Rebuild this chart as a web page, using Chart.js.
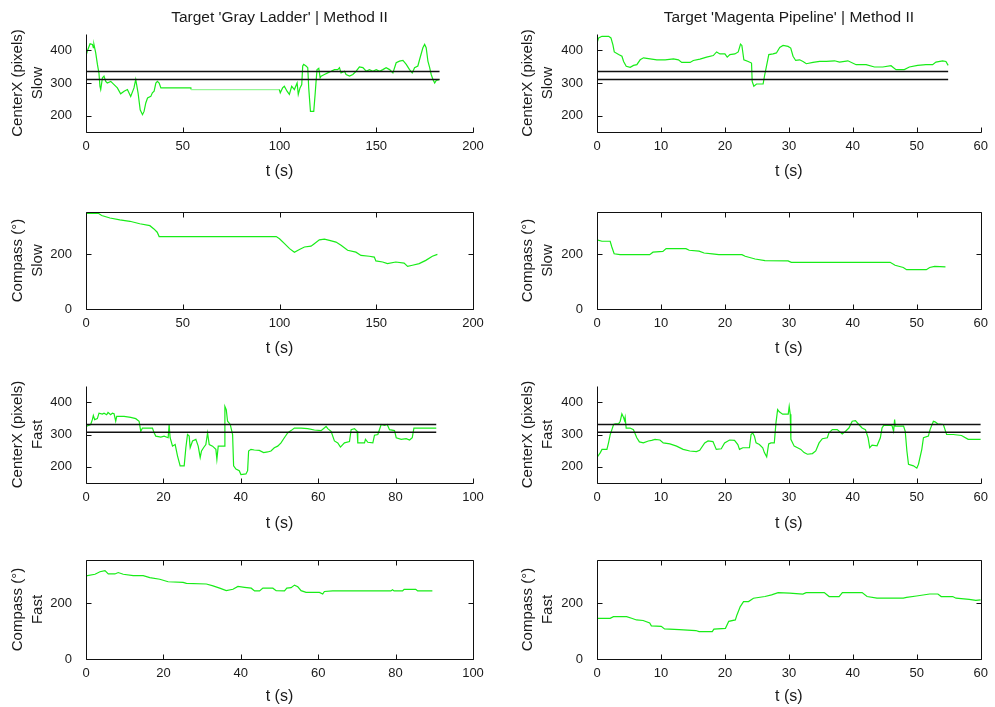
<!DOCTYPE html>
<html>
<head>
<meta charset="utf-8">
<title>CenterX and compass traces</title>
<script src="https://cdn.jsdelivr.net/npm/chart.js@4.4.0/dist/chart.umd.min.js"></script>
<style>
  html, body { margin: 0; padding: 0; background: #fff; width: 995px; height: 707px; overflow: hidden; }
  canvas { position: absolute; }
</style>
</head>
<body>
<script>
// ---- tick labels ----
const slowGrayXTicks = [0, 50, 100, 150, 200];
const fastGrayXTicks = [0, 20, 40, 60, 80, 100];
const magentaXTicks = [0, 10, 20, 30, 40, 50, 60];
const centerYTicks = [200, 300, 400];
const compassYTicks = [0, 200];

// ---- reference bands for CenterX (pixels) ----
const slowBand = [311, 335];
const fastBand = [307, 331];

// ---- titles ----
const titles = ["Target 'Gray Ladder' | Method II", "Target 'Magenta Pipeline' | Method II"];

// ---- series: [t (s), value] ----
const grayCenterSlow = [[0,383],[0.7,398],[2.1,420],[3.3,418],[3.8,408],[4.1,418],[5.0,393],[5.9,357],[6.7,330],[7.2,290],[7.6,280],[8.5,316],[9.3,321],[10.2,305],[11.0,300],[12.8,305],[14.5,295],[16.2,285],[17.9,267],[19.7,275],[21.4,280],[23.1,259],[24.8,285],[25.7,311],[26.9,270],[28.0,218],[29.2,203],[30.0,213],[30.9,239],[31.8,254],[33.5,259],[34.3,270],[35.2,275],[36.1,300],[36.9,305],[37.8,300],[38.7,285],[54.2,285],[54.3,280],[99.9,280],[100.4,270],[101.6,285],[102.5,290],[103.9,275],[105.1,265],[106.3,290],[107.7,280],[109.1,300],[109.7,265],[110.6,285],[111.5,295],[112.0,352],[112.5,357],[113.7,352],[114.6,347],[115.1,285],[116.0,213],[117.7,213],[118.4,265],[118.9,305],[119.4,341],[120.3,345],[121.0,316],[121.5,321],[123.2,326],[124.9,331],[126.7,336],[128.4,341],[130.1,341],[131.0,347],[131.8,331],[133.6,336],[134.4,326],[136.2,321],[137.9,326],[139.6,336],[141.3,349],[143.1,347],[144.8,336],[146.5,341],[148.2,336],[150.0,341],[151.7,336],[153.4,341],[155.1,347],[156.9,341],[158.6,331],[160.3,362],[162.0,367],[163.8,369],[165.5,357],[167.2,341],[168.6,331],[169.8,347],[171.5,352],[172.4,372],[174.1,408],[175.0,418],[175.8,408],[176.7,367],[177.6,347],[178.4,326],[179.3,311],[180.2,300],[181.0,308],[182.7,311]];

const magentaCenterSlow = [[0,422],[0.26,438],[0.78,443],[1.82,443],[2.18,438],[2.49,417],[2.70,395],[3.38,387],[3.90,382],[4.16,366],[4.57,351],[5.19,348],[5.71,354],[6.23,356],[6.75,371],[7.27,377],[8.31,374],[9.35,371],[10.65,371],[11.95,374],[12.73,371],[13.25,363],[14.55,363],[15.06,369],[16.10,373],[17.14,379],[18.18,384],[18.70,395],[19.22,389],[20.0,389],[20.36,379],[20.78,387],[21.56,389],[22.08,395],[22.44,419],[22.65,415],[22.96,371],[23.64,366],[24.16,361],[24.26,305],[24.52,290],[24.94,297],[25.97,297],[26.23,326],[26.49,351],[26.86,387],[27.53,389],[28.05,392],[28.57,409],[29.09,415],[29.87,412],[30.29,407],[30.65,382],[31.06,369],[31.69,371],[32.21,366],[32.73,359],[33.77,363],[34.81,366],[35.84,366],[37.14,368],[37.92,364],[39.22,368],[40.52,356],[42.08,356],[43.38,349],[44.68,349],[45.97,353],[46.75,341],[48.05,341],[48.83,349],[50.13,354],[51.43,356],[52.47,356],[52.99,364],[54.03,368],[54.55,366],[54.9,354]];

const grayCompassSlow = [[0,350],[6.4,350],[8.1,342],[12.4,333],[17.5,326],[22.7,321],[27.8,312],[33.0,305],[35.1,293],[36.8,281],[37.8,265],[98.3,265],[100.0,257],[102.6,239],[105.2,221],[107.7,208],[110.3,218],[112.9,227],[116.3,230],[118.0,239],[120.6,253],[123.2,256],[125.8,251],[129.2,245],[131.8,233],[135.2,215],[139.5,208],[142.1,196],[146.4,193],[149.0,190],[149.8,176],[153.3,172],[155.8,166],[160.1,172],[164.4,168],[166.2,156],[168.7,160],[172.2,166],[175.6,178],[179.0,193],[181.6,200]];

const magentaCompassSlow = [[0,253],[0.77,248],[2.06,248],[2.32,227],[2.68,202],[3.60,199],[8.24,199],[8.75,208],[10.30,211],[10.81,221],[13.90,221],[14.42,215],[15.96,212],[16.74,205],[18.02,202],[19.05,199],[22.66,199],[23.17,193],[24.72,183],[26.26,177],[29.87,176],[30.38,171],[45.83,171],[46.60,160],[47.89,152],[48.40,144],[51.49,144],[52.01,152],[52.78,156],[54.48,154]];

const grayCenterFast = [[0,325],[1.21,331],[1.64,346],[1.90,359],[2.24,346],[2.93,349],[3.36,366],[4.23,363],[4.66,366],[5.35,361],[5.69,368],[6.38,361],[6.82,366],[7.25,364],[7.68,341],[7.94,356],[9.84,356],[11.56,353],[12.86,349],[13.72,341],[14.15,310],[14.58,320],[15.44,320],[17.17,320],[17.60,305],[18.03,295],[19.33,292],[20.19,295],[21.23,290],[21.48,331],[21.74,290],[22.35,264],[23.04,269],[23.64,234],[24.33,203],[25.37,203],[25.80,259],[26.23,300],[26.66,295],[26.92,259],[27.53,280],[28.39,285],[28.99,264],[29.51,229],[29.85,249],[30.37,259],[30.97,269],[31.41,305],[31.84,269],[32.70,264],[33.56,254],[33.82,223],[34.17,264],[35.72,264],[35.89,387],[36.24,377],[36.58,341],[37.27,331],[37.88,300],[38.14,203],[38.74,193],[39.60,188],[40.03,176],[41.33,178],[41.76,188],[42.02,249],[42.62,254],[43.49,252],[44.78,251],[45.90,244],[46.94,246],[47.80,249],[48.66,259],[49.53,264],[50.39,274],[51.25,290],[52.11,305],[52.98,312],[53.84,320],[55.57,320],[57.29,318],[59.02,314],[60.74,312],[62.04,325],[62.47,318],[63.33,310],[64.19,280],[65.06,274],[65.75,261],[66.78,274],[68.08,278],[68.51,315],[69.37,318],[70.06,310],[70.23,274],[71.96,274],[72.22,285],[72.82,276],[74.12,274],[74.55,298],[75.41,300],[76.27,331],[77.14,328],[77.83,331],[78.43,315],[79.72,312],[80.16,290],[81.45,285],[82.74,287],[83.61,283],[84.30,290],[84.73,320],[90.51,320]];

const magentaCenterFast = [[0,229],[0.52,244],[0.78,254],[1.55,254],[1.81,275],[2.07,300],[2.33,315],[2.59,331],[2.85,333],[3.37,333],[3.63,341],[3.89,364],[4.15,353],[4.30,343],[4.40,353],[4.56,320],[5.18,320],[5.70,315],[6.22,290],[6.63,277],[7.25,274],[8.03,280],[8.55,282],[9.07,285],[9.84,283],[10.36,274],[11.40,271],[12.44,264],[13.47,254],[14.51,249],[15.54,247],[16.06,251],[16.84,274],[17.36,280],[18.13,278],[18.65,254],[19.43,256],[19.95,274],[20.73,283],[21.50,282],[22.02,269],[22.28,254],[22.80,259],[23.83,259],[24.09,300],[24.35,305],[24.61,295],[24.87,274],[25.39,269],[25.91,259],[26.17,244],[26.53,231],[26.84,271],[27.20,274],[27.72,274],[27.98,336],[28.24,377],[28.50,370],[29.02,363],[29.90,363],[30.05,387],[30.21,363],[30.31,285],[30.83,264],[31.35,259],[31.87,254],[32.38,244],[32.90,239],[33.68,241],[34.20,249],[34.72,274],[35.23,287],[36.01,290],[36.27,305],[36.79,315],[37.56,315],[38.34,302],[38.86,310],[39.38,320],[39.90,341],[40.41,343],[40.93,331],[41.45,320],[41.97,315],[42.38,290],[42.64,259],[43.01,267],[43.78,265],[44.30,290],[44.56,320],[44.82,328],[46.11,328],[46.37,310],[46.53,346],[46.63,326],[47.93,326],[48.19,310],[48.45,249],[48.70,208],[49.48,203],[50.00,196],[50.26,208],[50.78,254],[51.04,290],[51.81,295],[52.07,315],[52.59,341],[52.85,339],[53.26,333],[54.15,331],[54.66,300],[55.70,300],[56.99,297],[58.03,285],[60,285]];

const grayCompassFast = [[0,298],[2.32,304],[3.61,313],[4.90,317],[5.76,305],[7.47,305],[8.33,310],[9.62,304],[12.2,299],[14.78,299],[16.49,292],[19.07,286],[21.22,277],[25.09,275],[25.95,271],[31.1,269],[32.82,262],[34.54,254],[36.25,245],[37.97,250],[39.26,260],[40.98,257],[42.7,254],[43.56,244],[44.85,244],[45.7,254],[48.28,254],[49.14,245],[51.29,244],[51.89,254],[53.0,256],[53.87,265],[54.73,259],[55.58,245],[56.87,239],[60.31,239],[61.17,233],[61.6,242],[63.75,244],[78.78,244],[79.2,248],[79.6,244],[81.8,244],[82.2,250],[85.2,250],[85.7,244],[89.5,244]];

const magentaCompassFast = [[0,146],[2.06,146],[2.57,152],[4.63,152],[5.41,146],[6.18,140],[7.21,138],[8.24,129],[8.5,119],[10.04,117],[10.56,108],[12.87,105],[15.45,102],[15.96,98],[18.02,98],[18.28,107],[20.08,110],[20.6,135],[21.63,140],[21.88,158],[22.4,188],[22.91,206],[23.69,206],[24.46,218],[26.26,224],[27.29,230],[28.32,238],[30.12,236],[32.18,233],[32.7,238],[35.53,238],[36.3,224],[37.85,224],[38.36,238],[41.45,238],[42.22,224],[43.77,218],[47.89,218],[48.4,221],[49.95,226],[52.01,233],[53.3,233],[53.81,224],[55.61,224],[56.13,218],[58.19,214],[59.22,210],[60,212]];

// ---- page layout: one canvas per panel ----
const FONT = '"Liberation Sans", Arial, Helvetica, sans-serif';
const TEXT = '#1a1a1a';
const TRACE = 'rgb(24,236,24)';
const TRACE_GAP = 'rgb(150,246,150)';

const columns = [
  { left: 0,   w: 497, areaLeft: 86,  areaRight: 473 },
  { left: 510, w: 485, areaLeft: 597, areaRight: 984 }
];
const rows = [
  { top: 0,   h: 185, areaTop: 34,  areaBottom: 132, xTitlePad: 4 },
  { top: 185, h: 177, areaTop: 212, areaBottom: 309, xTitlePad: 4 },
  { top: 362, h: 175, areaTop: 386, areaBottom: 483, xTitlePad: 4 },
  { top: 537, h: 170, areaTop: 560, areaBottom: 659, xTitlePad: 1 }
];

const panels = [
  { col: 0, row: 0, series: grayCenterSlow, xMax: 200, xTicks: slowGrayXTicks, yMin: 150, yMax: 450, yTicks: centerYTicks, yTitle: ['CenterX (pixels)', 'Slow'], band: slowBand, bandEnd: 182.7, title: titles[0], box: false, gapShade: true },
  { col: 1, row: 0, series: magentaCenterSlow, xMax: 60, xTicks: magentaXTicks, yMin: 150, yMax: 450, yTicks: centerYTicks, yTitle: ['CenterX (pixels)', 'Slow'], band: slowBand, bandEnd: 54.9, title: titles[1], box: false },
  { col: 0, row: 1, series: grayCompassSlow, xMax: 200, xTicks: slowGrayXTicks, yMin: 0, yMax: 355, yTicks: compassYTicks, yTitle: ['Compass (\u00b0)', 'Slow'], box: true },
  { col: 1, row: 1, series: magentaCompassSlow, xMax: 60, xTicks: magentaXTicks, yMin: 0, yMax: 355, yTicks: compassYTicks, yTitle: ['Compass (\u00b0)', 'Slow'], box: true },
  { col: 0, row: 2, series: grayCenterFast, xMax: 100, xTicks: fastGrayXTicks, yMin: 150, yMax: 450, yTicks: centerYTicks, yTitle: ['CenterX (pixels)', 'Fast'], band: fastBand, bandEnd: 90.5, box: false },
  { col: 1, row: 2, series: magentaCenterFast, xMax: 60, xTicks: magentaXTicks, yMin: 150, yMax: 450, yTicks: centerYTicks, yTitle: ['CenterX (pixels)', 'Fast'], band: fastBand, bandEnd: 60, box: false },
  { col: 0, row: 3, series: grayCompassFast, xMax: 100, xTicks: fastGrayXTicks, yMin: 0, yMax: 355, yTicks: compassYTicks, yTitle: ['Compass (\u00b0)', 'Fast'], box: true },
  { col: 1, row: 3, series: magentaCompassFast, xMax: 60, xTicks: magentaXTicks, yMin: 0, yMax: 355, yTicks: compassYTicks, yTitle: ['Compass (\u00b0)', 'Fast'], box: true }
];

// Axis lines with inward-pointing tick marks; compass panels get a full box.
const axisFrame = {
  id: 'axisFrame',
  afterDraw(chart, args, opts) {
    const { ctx, chartArea: a } = chart;
    const xs = chart.scales.x, ys = chart.scales.y;
    const len = 5;
    const L = Math.round(a.left) + 0.5, R = Math.round(a.right) + 0.5;
    const T = Math.round(a.top) + 0.5, B = Math.round(a.bottom) + 0.5;
    ctx.save();
    ctx.strokeStyle = '#111';
    ctx.lineWidth = 1;
    ctx.beginPath();
    if (opts.box) {
      ctx.rect(L, T, R - L, B - T);
    } else {
      ctx.moveTo(L, T); ctx.lineTo(L, B); ctx.lineTo(R, B);
    }
    xs.ticks.forEach(t => {
      const px = Math.round(xs.getPixelForValue(t.value)) + 0.5;
      ctx.moveTo(px, B); ctx.lineTo(px, B - len);
      if (opts.box) { ctx.moveTo(px, T); ctx.lineTo(px, T + len); }
    });
    ys.ticks.forEach(t => {
      const py = Math.round(ys.getPixelForValue(t.value)) + 0.5;
      ctx.moveTo(L, py); ctx.lineTo(L + len, py);
      if (opts.box) { ctx.moveTo(R, py); ctx.lineTo(R - len, py); }
    });
    ctx.stroke();
    ctx.restore();
  }
};

Chart.defaults.font.family = FONT;
Chart.defaults.color = TEXT;

panels.forEach(p => {
  const col = columns[p.col], row = rows[p.row];
  const canvas = document.createElement('canvas');
  canvas.width = col.w;
  canvas.height = row.h;
  canvas.style.left = col.left + 'px';
  canvas.style.top = row.top + 'px';
  canvas.style.width = col.w + 'px';
  canvas.style.height = row.h + 'px';
  document.body.appendChild(canvas);

  const datasets = [];
  if (p.band) {
    p.band.forEach(v => datasets.push({
      data: [{ x: 0, y: v }, { x: p.bandEnd, y: v }],
      borderColor: '#111', borderWidth: 1.5, pointRadius: 0
    }));
  }
  datasets.push({
    data: p.series.map(([x, y]) => ({ x, y })),
    borderColor: TRACE,
    borderWidth: 1.2,
    pointRadius: 0,
    segment: p.gapShade ? {
      borderColor: c => (c.p1.parsed.x - c.p0.parsed.x > 30 ? TRACE_GAP : undefined)
    } : undefined
  });

  new Chart(canvas, {
    type: 'line',
    data: { datasets },
    options: {
      responsive: false,
      animation: false,
      events: [],
      layout: {
        padding: {
          top: p.title ? 0 : row.areaTop - row.top,
          right: col.left + col.w - col.areaRight,
          bottom: 0,
          left: 0
        }
      },
      plugins: {
        legend: { display: false },
        tooltip: { enabled: false },
        title: p.title ? {
          display: true, text: p.title, fullSize: false, color: TEXT,
          font: { family: FONT, size: 15.5, weight: 'normal', lineHeight: 18 / 15.5 },
          padding: { top: 8.5, bottom: row.areaTop - row.top - 8.5 - 18 }
        } : { display: false },
        axisFrame: { box: p.box }
      },
      scales: {
        x: {
          type: 'linear', min: 0, max: p.xMax,
          grid: { display: false, drawTicks: false },
          border: { display: false },
          afterBuildTicks: s => { s.ticks = p.xTicks.map(v => ({ value: v })); },
          afterFit: s => { s.height = row.top + row.h - row.areaBottom; },
          ticks: { padding: 7, maxRotation: 0, autoSkip: false, color: TEXT, font: { size: 13 } },
          title: {
            display: true, text: 't (s)', color: TEXT,
            font: { size: 16, lineHeight: 18 / 16 },
            padding: { top: 0, bottom: row.xTitlePad }
          }
        },
        y: {
          type: 'linear', min: p.yMin, max: p.yMax,
          grid: { display: false, drawTicks: false },
          border: { display: false },
          afterBuildTicks: s => { s.ticks = p.yTicks.map(v => ({ value: v })); },
          afterFit: s => { s.width = col.areaLeft - col.left; },
          ticks: { padding: 14, color: TEXT, font: { size: 13 } },
          title: {
            display: true, text: p.yTitle, color: TEXT,
            font: { size: 15, lineHeight: 20 / 15 },
            padding: { top: 8, bottom: 0 }
          }
        }
      }
    },
    plugins: [axisFrame]
  });
});
</script>
</body>
</html>
